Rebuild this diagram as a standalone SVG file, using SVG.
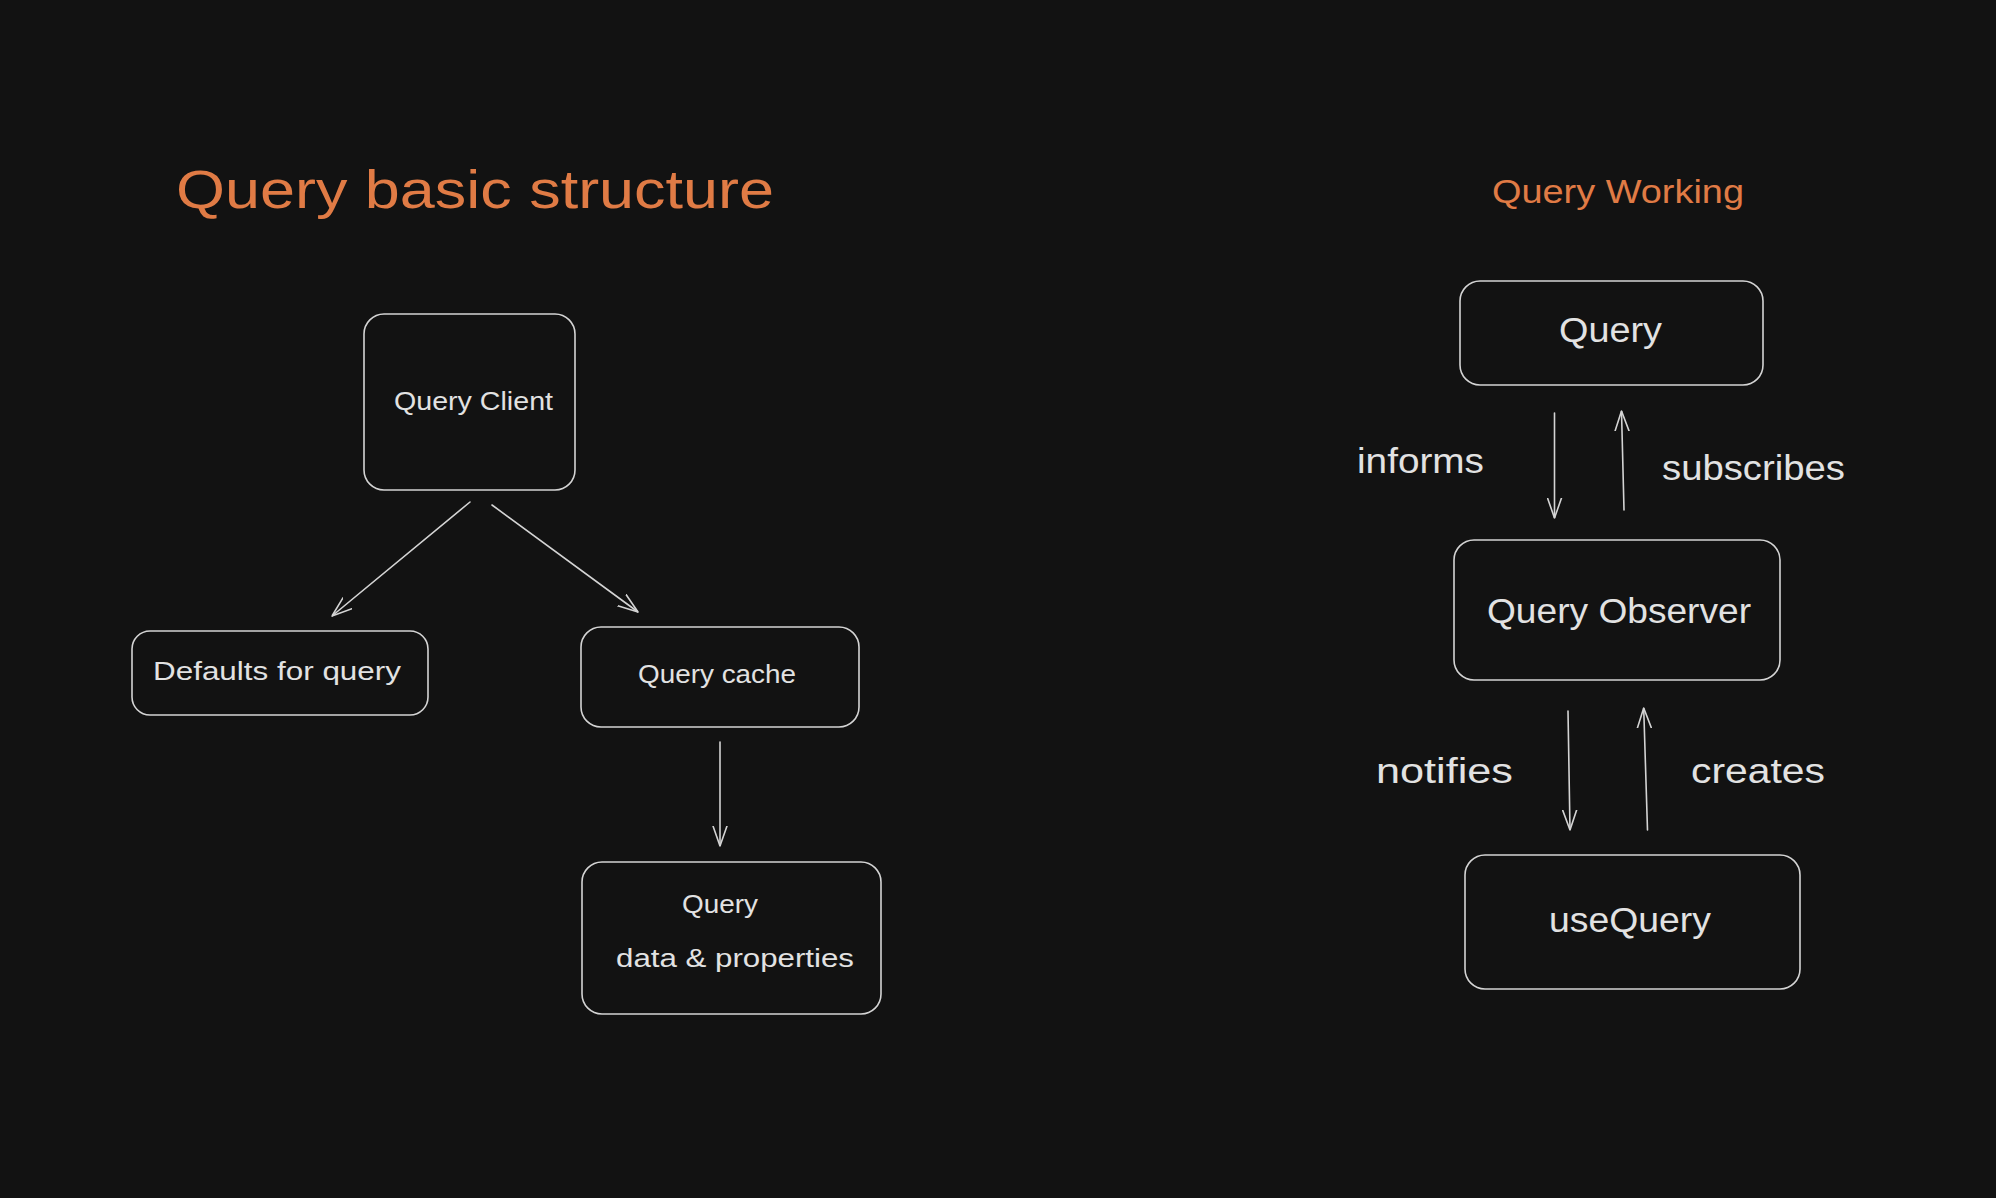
<svg xmlns="http://www.w3.org/2000/svg" width="1996" height="1198" viewBox="0 0 1996 1198">
  <style>
    .box { fill: #121212; stroke: #d4d4d4; stroke-width: 1.6; }
    .t { font-family: "Liberation Sans", "DejaVu Sans", sans-serif; fill: #e2e2e2; }
    .title { font-family: "Liberation Sans", "DejaVu Sans", sans-serif; fill: #e07b45; }
    .conn { stroke: #d4d4d4; stroke-width: 1.6; fill: none; stroke-linecap: round; }
  </style>
  <defs>
    <marker id="arr" viewBox="0 0 20 16" refX="20" refY="8" markerWidth="20" markerHeight="16" markerUnits="userSpaceOnUse" orient="auto">
      <path d="M0,1 L20,8 L0,15" fill="none" stroke="#d4d4d4" stroke-width="1.6" stroke-linecap="round" stroke-linejoin="round"/>
    </marker>
  </defs>
  <rect width="1996" height="1198" fill="#121212"/>

  <text class="title" x="176" y="208" font-size="54" textLength="598" lengthAdjust="spacingAndGlyphs">Query basic structure</text>
  <text class="title" x="1492" y="203" font-size="33" textLength="252" lengthAdjust="spacingAndGlyphs">Query Working</text>

  <g id="query-client">
    <rect class="box" x="364" y="314" width="211" height="176" rx="20"/>
    <text class="t" x="394" y="410" font-size="25" textLength="159" lengthAdjust="spacingAndGlyphs">Query Client</text>
  </g>
  <g id="defaults">
    <rect class="box" x="132" y="631" width="296" height="84" rx="18"/>
    <text class="t" x="153" y="680" font-size="25" textLength="248" lengthAdjust="spacingAndGlyphs">Defaults for query</text>
  </g>
  <g id="query-cache">
    <rect class="box" x="581" y="627" width="278" height="100" rx="20"/>
    <text class="t" x="638" y="683" font-size="25" textLength="158" lengthAdjust="spacingAndGlyphs">Query cache</text>
  </g>
  <g id="query-data">
    <rect class="box" x="582" y="862" width="299" height="152" rx="20"/>
    <text class="t" x="682" y="913" font-size="25" textLength="76" lengthAdjust="spacingAndGlyphs">Query</text>
    <text class="t" x="616" y="967" font-size="25" textLength="238" lengthAdjust="spacingAndGlyphs">data &amp; properties</text>
  </g>

  <g id="query">
    <rect class="box" x="1460" y="281" width="303" height="104" rx="20"/>
    <text class="t" x="1559" y="342" font-size="35" textLength="103" lengthAdjust="spacingAndGlyphs">Query</text>
  </g>
  <g id="query-observer">
    <rect class="box" x="1454" y="540" width="326" height="140" rx="20"/>
    <text class="t" x="1487" y="623" font-size="35" textLength="264" lengthAdjust="spacingAndGlyphs">Query Observer</text>
  </g>
  <g id="use-query">
    <rect class="box" x="1465" y="855" width="335" height="134" rx="20"/>
    <text class="t" x="1549" y="932" font-size="35" textLength="162" lengthAdjust="spacingAndGlyphs">useQuery</text>
  </g>

  <g id="connectors">
    <line class="conn" x1="470" y1="502" x2="332" y2="616" marker-end="url(#arr)"/>
    <line class="conn" x1="492" y1="505" x2="638" y2="612" marker-end="url(#arr)"/>
    <line class="conn" x1="720" y1="742" x2="720" y2="846" marker-end="url(#arr)"/>
    <line class="conn" x1="1554.5" y1="413" x2="1554.5" y2="518" marker-end="url(#arr)"/>
    <line class="conn" x1="1624" y1="510" x2="1621.5" y2="411" marker-end="url(#arr)"/>
    <line class="conn" x1="1568" y1="711" x2="1570" y2="830" marker-end="url(#arr)"/>
    <line class="conn" x1="1647.5" y1="830" x2="1643.7" y2="708" marker-end="url(#arr)"/>
    <text class="t" x="1357" y="473" font-size="35" textLength="127" lengthAdjust="spacingAndGlyphs">informs</text>
    <text class="t" x="1662" y="480" font-size="35" textLength="183" lengthAdjust="spacingAndGlyphs">subscribes</text>
    <text class="t" x="1376" y="783" font-size="35" textLength="137" lengthAdjust="spacingAndGlyphs">notifies</text>
    <text class="t" x="1691" y="783" font-size="35" textLength="134" lengthAdjust="spacingAndGlyphs">creates</text>
  </g>
</svg>
